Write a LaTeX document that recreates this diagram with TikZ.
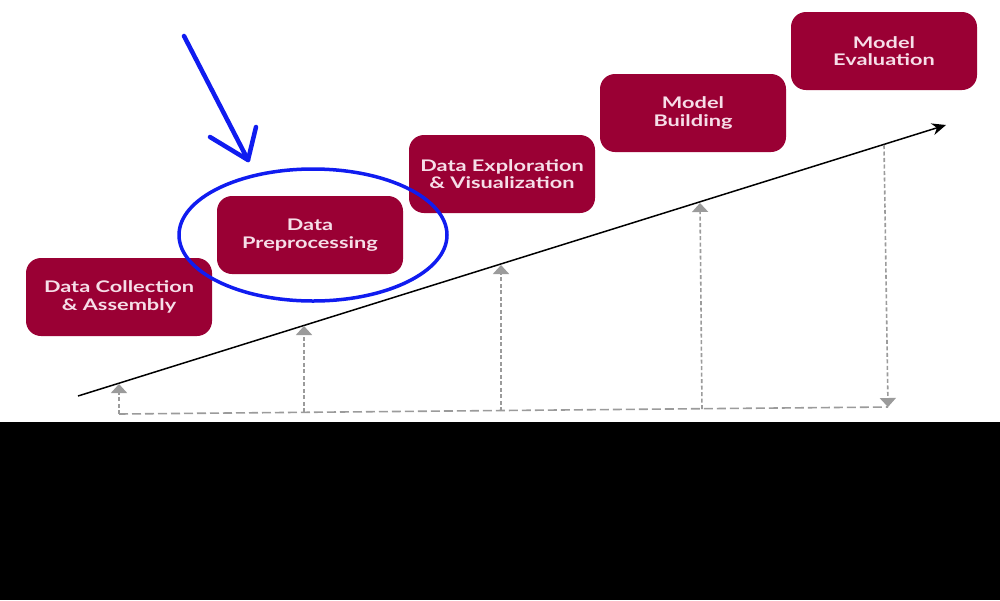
\documentclass[tikz,border=0pt]{standalone}
\usepackage{fontspec}
\setmainfont{Lato}
\newfontfamily\stagefont{Lato}[FakeStretch=1.36]
\usetikzlibrary{calc,positioning,arrows.meta}
\definecolor{maroon}{RGB}{154,0,52}
\definecolor{pinkwhite}{RGB}{246,222,232}
\definecolor{markblue}{RGB}{16,28,240}
\definecolor{guide}{RGB}{155,155,155}
\begin{document}
\begin{tikzpicture}[x=1pt,y=-1pt,
  stage/.style={fill=maroon,rounded corners=15pt,minimum width=186pt,minimum height=78pt,inner sep=0pt,text=pinkwhite,align=center,font=\stagefont\bfseries\fontsize{16}{17.5}\selectfont},
  riser/.style={guide,line width=1.6pt,dash pattern=on 4pt off 2.5pt,-{Triangle[width=16pt,length=9pt]}},
  base/.style={guide,line width=1.6pt,dash pattern=on 9pt off 4pt}]
  \useasboundingbox (0,0) rectangle (1000,600);
  \fill[white] (0,0) rectangle (1000,422);
  \fill[black] (0,422) rectangle (1000,600);

  \node[stage] (collect) at (119,297) {Data Collection\\\& Assembly};
  \node[stage] (prep) at (310,235) {Data\\Preprocessing};
  \node[stage] (explore) at (502,174) {Data Exploration\\\& Visualization};
  \node[stage] (build) at (693,113) {Model\\Building};
  \node[stage] (eval) at (884,51) {Model\\Evaluation};

  \coordinate (s) at (78,396);
  \coordinate (e) at (946,125);
  \draw[line width=1.5pt,-{Stealth[length=14pt,width=12pt]}] (s) -- (e);

  \coordinate (b1) at (119,414);
  \coordinate (b2) at (304,412);
  \coordinate (b3) at (501,411);
  \coordinate (b4) at (702,409);
  \coordinate (b5) at (888,407);
  \coordinate (t1) at (119,384);
  \coordinate (t2) at (304,326);
  \coordinate (t3) at (501,265);
  \coordinate (t4) at (700,203);
  \coordinate (t5) at (884,145);

  \draw[base] (b1) -- (b5);
  \draw[riser] (b1) -- (t1);
  \draw[riser] (b2) -- (t2);
  \draw[riser] (b3) -- (t3);
  \draw[riser] (b4) -- (t4);
  \draw[riser] (t5) -- (b5);

  \draw[markblue,line width=3.5pt] (313,235) ellipse (134pt and 66pt);
  \coordinate (tip) at (248,160);
  \draw[markblue,line width=4.5pt,line cap=round,line join=round] (184,36) -- (tip);
  \draw[markblue,line width=4.5pt,line cap=round,line join=round] (210,137) -- (tip) -- (256,127);
\end{tikzpicture}
\end{document}
